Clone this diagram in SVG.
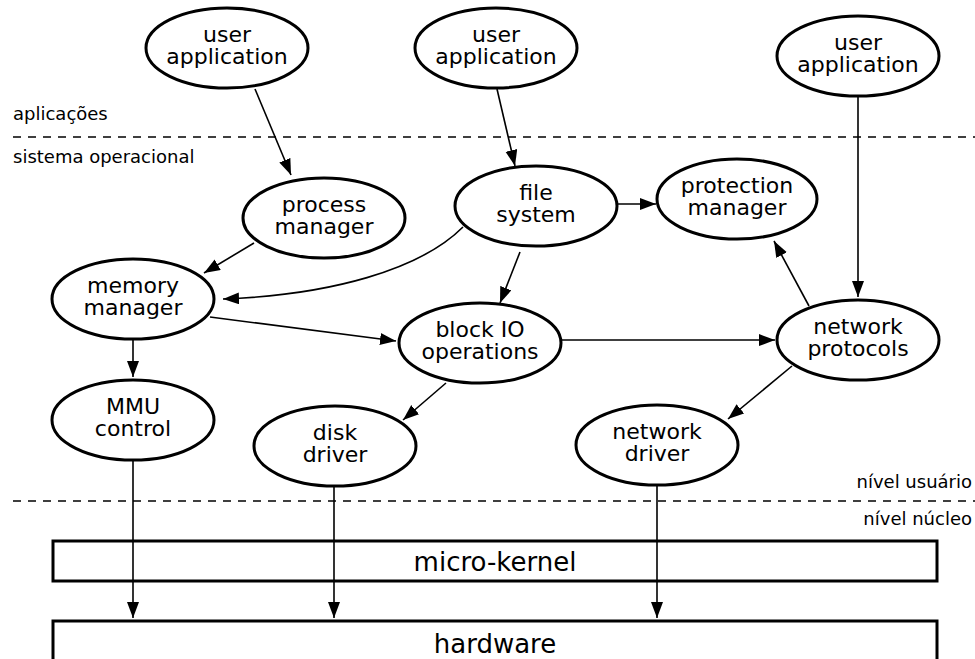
<svg xmlns="http://www.w3.org/2000/svg" width="975" height="659" viewBox="0 0 975 659">
<style>
.node ellipse{fill:#fff;stroke:#000;stroke-width:3}
.node text{font-family:"DejaVu Sans",sans-serif;font-size:22px;text-anchor:middle;fill:#000}
.lbl{font-family:"DejaVu Sans",sans-serif;font-size:18px;fill:#000}
.dash{stroke:#000;stroke-width:1.5;stroke-dasharray:8,7;fill:none}
.edges path,.edges line{stroke:#000;stroke-width:1.6;fill:none;marker-end:url(#ah)}
.box rect{fill:#fff;stroke:#000;stroke-width:3}
.box text{font-family:"DejaVu Sans",sans-serif;font-size:26px;text-anchor:middle;fill:#000}
</style>
<defs>
<marker id="ah" markerUnits="userSpaceOnUse" markerWidth="17" markerHeight="13" refX="16" refY="6" orient="auto">
<path d="M0,0 L16,6 L0,12 z" fill="#000"/>
</marker>
</defs>
<rect width="975" height="659" fill="#fff"/>
<line class="dash" x1="13" y1="137" x2="975" y2="137"/>
<line class="dash" x1="13" y1="501" x2="975" y2="501"/>
<text class="lbl" x="13" y="120">aplicações</text>
<text class="lbl" x="13" y="163">sistema operacional</text>
<text class="lbl" x="972" y="488" text-anchor="end">nível usuário</text>
<text class="lbl" x="972" y="525" text-anchor="end">nível núcleo</text>
<g id="micro-kernel" class="box"><rect x="53" y="541" width="884" height="40"/><text x="495" y="571">micro-kernel</text></g>
<g id="hardware" class="box"><rect x="53" y="621" width="884" height="60"/><text x="495" y="653">hardware</text></g>
<g class="edges">
<line x1="255" y1="89" x2="291" y2="175"/>
<line x1="497" y1="89" x2="515" y2="166"/>
<line x1="858" y1="97" x2="858" y2="297"/>
<line x1="254" y1="243" x2="204" y2="273"/>
<path d="M463,227 C420,270 330,295 223,299"/>
<line x1="520" y1="252" x2="500" y2="303"/>
<line x1="617" y1="204" x2="656" y2="204"/>
<line x1="210" y1="317" x2="396" y2="341"/>
<line x1="561" y1="340" x2="775" y2="340"/>
<line x1="809" y1="306" x2="774" y2="241"/>
<line x1="446" y1="383" x2="403" y2="420"/>
<line x1="792" y1="366" x2="728" y2="419"/>
<line x1="133" y1="339" x2="133" y2="377"/>
<line x1="133" y1="460" x2="133" y2="618"/>
<line x1="334" y1="487" x2="334" y2="618"/>
<line x1="657" y1="485" x2="657" y2="618"/>
</g>
<g id="ua1" class="node"><ellipse cx="227" cy="48" rx="81" ry="40"/><text x="227" y="42">user</text><text x="227" y="64">application</text></g>
<g id="ua2" class="node"><ellipse cx="496" cy="48" rx="81" ry="40"/><text x="496" y="42">user</text><text x="496" y="64">application</text></g>
<g id="ua3" class="node"><ellipse cx="858" cy="56" rx="81" ry="40"/><text x="858" y="50">user</text><text x="858" y="72">application</text></g>
<g id="process" class="node"><ellipse cx="324" cy="218" rx="81" ry="40"/><text x="324" y="212">process</text><text x="324" y="234">manager</text></g>
<g id="filesystem" class="node"><ellipse cx="536" cy="206" rx="81" ry="40"/><text x="536" y="200">file</text><text x="536" y="222">system</text></g>
<g id="protection" class="node"><ellipse cx="737" cy="199" rx="80" ry="40"/><text x="737" y="193">protection</text><text x="737" y="215">manager</text></g>
<g id="memory" class="node"><ellipse cx="133" cy="299" rx="81" ry="40"/><text x="133" y="293">memory</text><text x="133" y="315">manager</text></g>
<g id="mmu" class="node"><ellipse cx="133" cy="420" rx="81" ry="40"/><text x="133" y="414">MMU</text><text x="133" y="436">control</text></g>
<g id="blockio" class="node"><ellipse cx="480" cy="343" rx="81" ry="40"/><text x="480" y="337">block IO</text><text x="480" y="359">operations</text></g>
<g id="netproto" class="node"><ellipse cx="858" cy="340" rx="81" ry="40"/><text x="858" y="334">network</text><text x="858" y="356">protocols</text></g>
<g id="disk" class="node"><ellipse cx="335" cy="446" rx="81" ry="40"/><text x="335" y="440">disk</text><text x="335" y="462">driver</text></g>
<g id="netdriver" class="node"><ellipse cx="657" cy="445" rx="81" ry="40"/><text x="657" y="439">network</text><text x="657" y="461">driver</text></g>
</svg>
